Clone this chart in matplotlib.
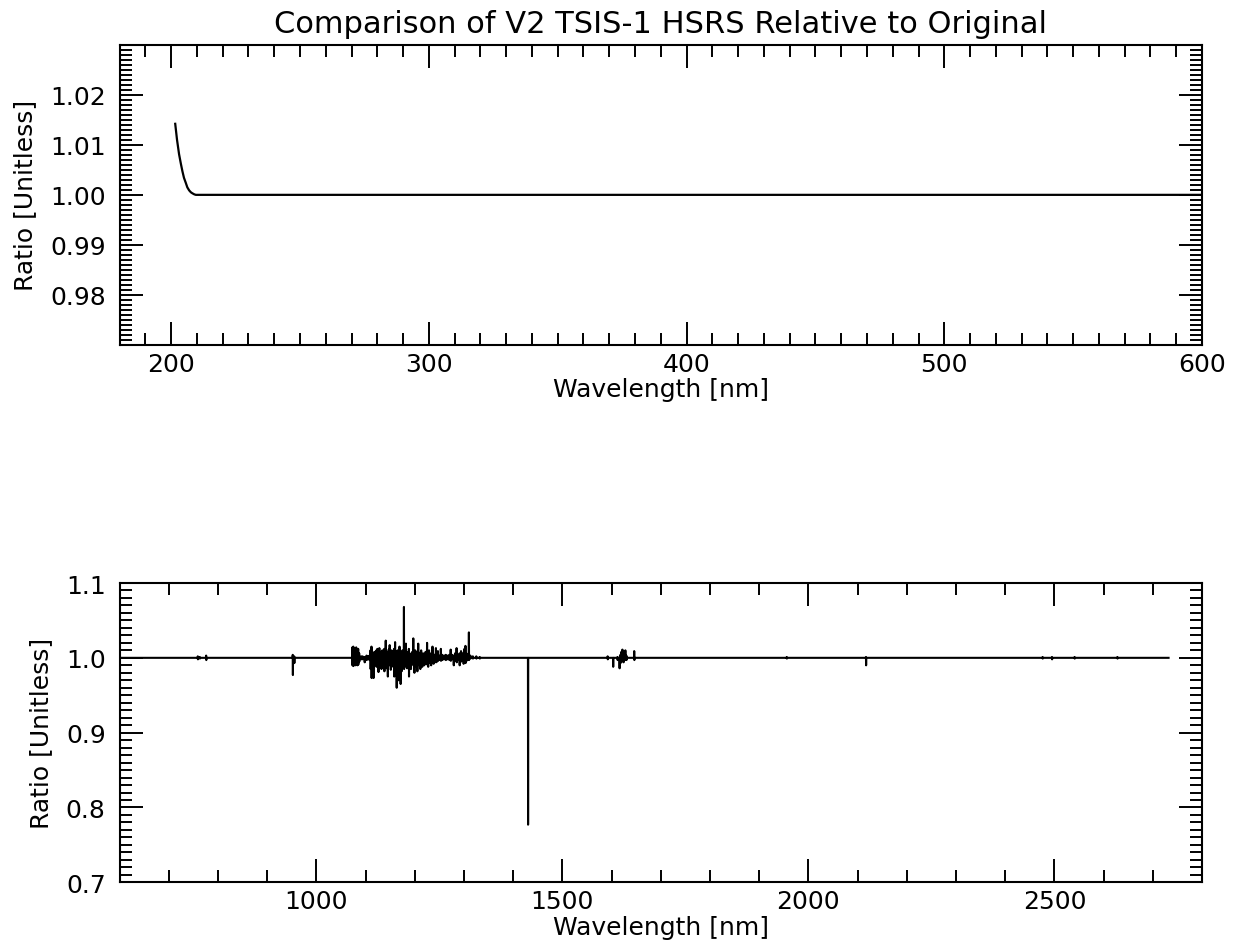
import matplotlib
matplotlib.use("Agg")
import matplotlib.pyplot as plt
from matplotlib.ticker import MultipleLocator

# ---- data ----
top_wl = [201.6, 202.3, 203.1, 203.8, 204.4, 205.0, 205.7, 206.3, 207.0, 207.7, 208.3, 209.0, 209.6, 620.0]
top_ratio = [1.0142, 1.0110, 1.0081, 1.0062, 1.0047, 1.0034, 1.0024, 1.0015, 1.0009, 1.0005, 1.0003, 1.0001, 1.0000, 1.0000]

bot_start_wl = 600.0
bot_end_wl = 2732.0

spike_wl = [759, 763, 776, 952, 955,
            1073, 1075, 1077, 1079, 1081, 1083, 1085, 1087, 1091, 1094, 1098,
            1102, 1105, 1108, 1110, 1112, 1114, 1116, 1118, 1120, 1122, 1124,
            1126, 1128, 1130, 1132, 1134, 1136, 1138, 1141, 1143, 1145, 1147,
            1149, 1151, 1153, 1156, 1158, 1160, 1163, 1165, 1167, 1169, 1171,
            1173, 1175, 1178, 1180, 1182, 1184, 1186, 1188, 1190, 1192, 1195,
            1197, 1199, 1201, 1203, 1205, 1207, 1209, 1211, 1213, 1215, 1217,
            1219, 1222, 1225, 1227, 1229, 1231, 1233, 1236, 1238, 1240, 1243,
            1245, 1247, 1250, 1253, 1256, 1260, 1263, 1266, 1270, 1273, 1276,
            1279, 1282, 1285, 1288, 1291, 1294, 1297, 1299, 1301, 1303, 1305,
            1307, 1310, 1313, 1318, 1325, 1332,
            1430, 1592, 1603, 1612, 1616, 1618, 1620, 1622, 1624, 1626, 1628,
            1630, 1646, 1956, 2117, 2476, 2495, 2541, 2628]
spike_hi = [1.002, 1.001, 1.003, 1.004, 1.002,
            1.014, 1.015, 1.013, 1.012, 1.014, 1.011, 1.012, 1.006, 1.002, 1.002, 1.001,
            1.003, 1.002, 1.003, 1.010, 1.015, 1.006, 1.004, 1.008, 1.005, 1.010, 1.012,
            1.006, 1.013, 1.008, 1.005, 1.010, 1.009, 1.012, 1.023, 1.008, 1.006, 1.011,
            1.017, 1.007, 1.010, 1.006, 1.012, 1.021, 1.005, 1.010, 1.006, 1.015, 1.008,
            1.004, 1.010, 1.068, 1.006, 1.019, 1.008, 1.005, 1.012, 1.006, 1.004, 1.008,
            1.026, 1.006, 1.010, 1.004, 1.008, 1.019, 1.005, 1.007, 1.010, 1.004, 1.006,
            1.003, 1.008, 1.020, 1.005, 1.010, 1.004, 1.006, 1.015, 1.005, 1.003, 1.013,
            1.004, 1.009, 1.003, 1.012, 1.004, 1.003, 1.004, 1.003, 1.004, 1.011, 1.004,
            1.003, 1.006, 1.013, 1.004, 1.006, 1.009, 1.004, 1.007, 1.012, 1.016, 1.006,
            1.005, 1.034, 1.003, 1.002, 1.002, 1.001,
            1.000, 1.002, 1.000, 1.001, 1.000, 1.004, 1.008, 1.011, 1.009, 1.006, 1.010,
            1.003, 1.009, 1.001, 1.001, 1.001, 1.001, 1.001, 1.001]
spike_lo = [0.998, 0.999, 0.997, 0.977, 0.993,
            0.990, 0.989, 0.991, 0.990, 0.992, 0.990, 0.991, 0.995, 0.998, 0.998, 0.994,
            0.997, 0.998, 0.997, 0.985, 0.973, 0.992, 0.973, 0.990, 0.993, 0.988, 0.990,
            0.981, 0.992, 0.991, 0.985, 0.992, 0.990, 0.982, 0.990, 0.986, 0.975, 0.992,
            0.990, 0.984, 0.988, 0.990, 0.975, 0.985, 0.960, 0.980, 0.970, 0.988, 0.965,
            0.982, 0.990, 0.985, 0.992, 0.988, 0.986, 0.993, 0.975, 0.990, 0.985, 0.992,
            0.990, 0.980, 0.992, 0.988, 0.982, 0.992, 0.990, 0.985, 0.993, 0.988, 0.994,
            0.990, 0.992, 0.991, 0.988, 0.993, 0.994, 0.990, 0.995, 0.992, 0.996, 0.994,
            0.995, 0.996, 0.997, 0.996, 0.997, 0.998, 0.997, 0.998, 0.997, 0.996, 0.998,
            0.990, 0.996, 0.994, 0.997, 0.990, 0.995, 0.996, 0.992, 0.995, 0.993, 0.996,
            0.997, 0.997, 0.999, 0.999, 0.999, 0.999,
            0.777, 0.998, 0.988, 0.997, 0.986, 0.993, 0.995, 0.996, 0.994, 0.997, 0.998,
            0.997, 0.997, 0.999, 0.990, 0.999, 0.998, 0.999, 0.999]

# build the plotted series from the read spikes
bot_wl = [bot_start_wl]
bot_ratio = [1.0]
for w, hi, lo in zip(spike_wl, spike_hi, spike_lo):
    bot_wl += [w - 0.3, w, w + 0.3, w + 0.6]
    bot_ratio += [1.0, hi, lo, 1.0]
bot_wl.append(bot_end_wl)
bot_ratio.append(1.0)

FS = 18

fig = plt.figure(figsize=(12.35, 9.45), dpi=100)
ax1 = fig.add_axes([0.0968, 0.6339, 0.8765, 0.3177])
ax2 = fig.add_axes([0.0968, 0.0653, 0.8765, 0.3167])

ax1.plot(top_wl, top_ratio, color='black', lw=1.6)
ax2.plot(bot_wl, bot_ratio, color='black', lw=1.5)

ax1.set_xlim(180, 600)
ax1.set_ylim(0.97, 1.03)
ax1.set_xticks([200, 300, 400, 500, 600])
ax1.set_yticks([0.98, 0.99, 1.00, 1.01, 1.02])
ax1.set_yticklabels(['0.98', '0.99', '1.00', '1.01', '1.02'])
ax1.xaxis.set_minor_locator(MultipleLocator(10))
ax1.yaxis.set_minor_locator(MultipleLocator(0.001))

ax2.set_xlim(600, 2800)
ax2.set_ylim(0.7, 1.1)
ax2.set_xticks([1000, 1500, 2000, 2500])
ax2.set_yticks([0.7, 0.8, 0.9, 1.0, 1.1])
ax2.set_yticklabels(['0.7', '0.8', '0.9', '1.0', '1.1'])
ax2.xaxis.set_minor_locator(MultipleLocator(100))
ax2.yaxis.set_minor_locator(MultipleLocator(0.01))

for ax in (ax1, ax2):
    ax.tick_params(which='both', direction='in', top=True, right=True,
                   width=1.4, labelsize=FS)
    ax.tick_params(which='major', length=16.5)
    ax.tick_params(which='minor', length=8.5)
    ax.tick_params(axis='x', pad=5)
    ax.tick_params(axis='y', pad=10)
    for s in ax.spines.values():
        s.set_linewidth(1.5)
    ax.set_xlabel('Wavelength [nm]', fontsize=FS, labelpad=1)
    ax.set_ylabel('Ratio [Unitless]', fontsize=FS, labelpad=9)

ax1.set_title('Comparison of V2 TSIS-1 HSRS Relative to Original', fontsize=22, pad=9)

fig.savefig('out.png', dpi=100)
